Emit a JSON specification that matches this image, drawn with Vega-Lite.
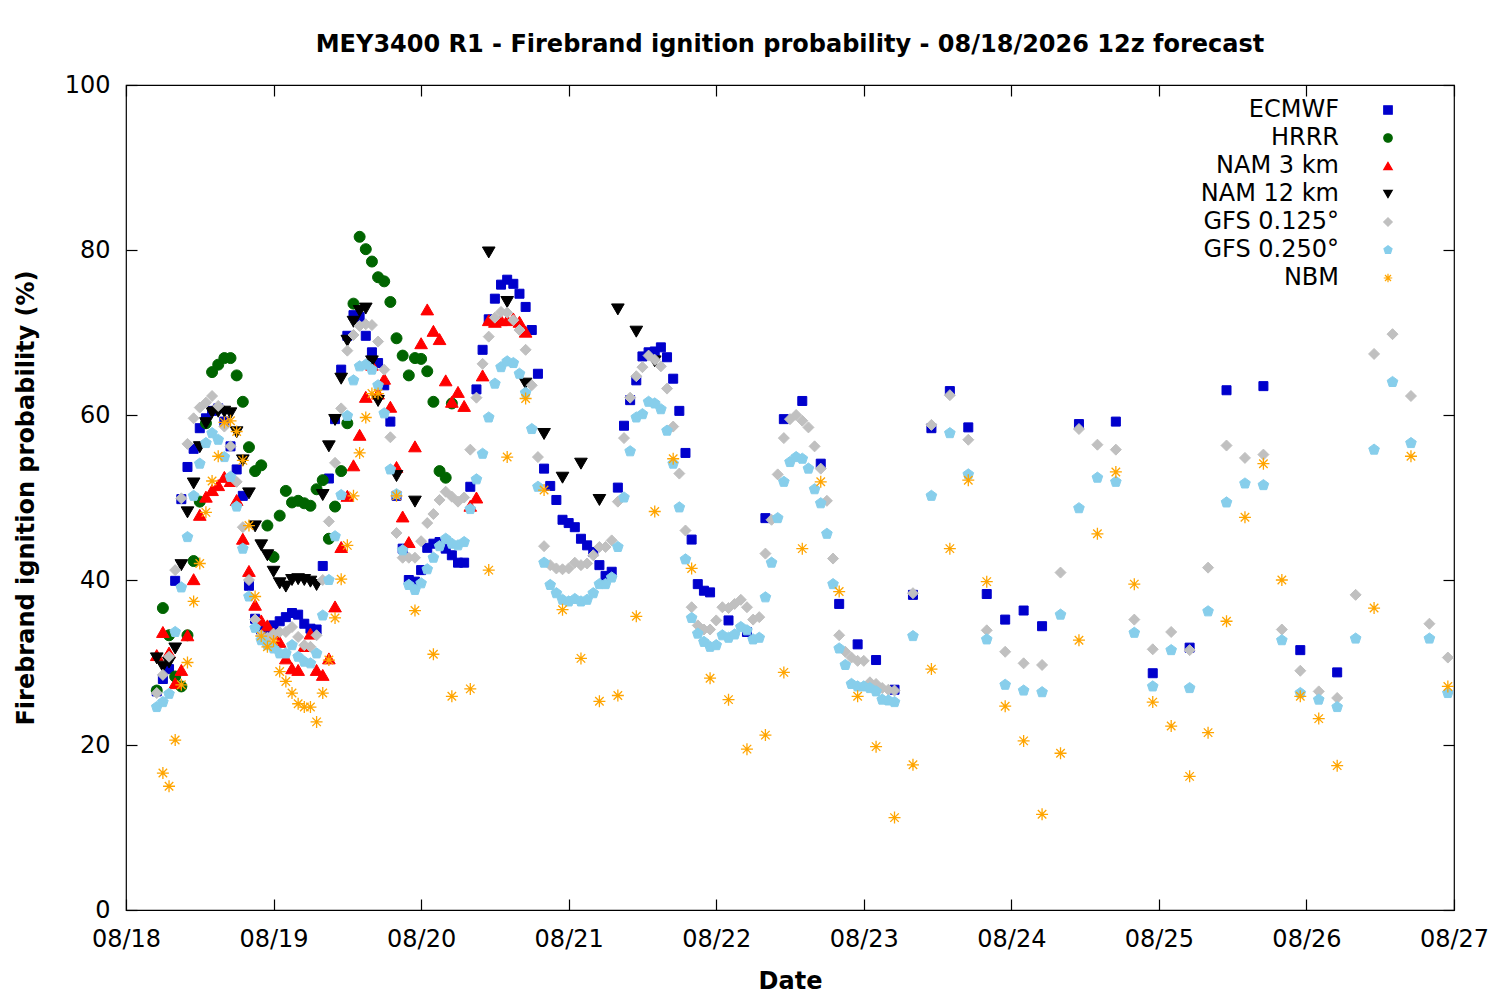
{
"$schema":"https://vega.github.io/schema/vega-lite/v6.json",
"width":1328,"height":825,
"autosize":{"type":"none"},
"padding":{"left":126,"top":85,"right":46,"bottom":90},
"title":{"text":"MEY3400 R1 - Firebrand ignition probability - 08/18/2026 12z forecast","fontSize":24,"font":"DejaVu Sans","fontWeight":"bold","color":"black","offset":16},
"config":{"font":"DejaVu Sans","view":{"stroke":"black","strokeWidth":1.2},
"axis":{"domain":false,"grid":false,"tickColor":"black","tickWidth":1.2,"tickSize":-11,"labelFontSize":24,"labelFont":"DejaVu Sans","labelColor":"black","titleFontSize":24,"titleFont":"DejaVu Sans","titleFontWeight":"bold","titleColor":"black"},
"legend":{"labelFontSize":24,"labelFont":"DejaVu Sans","labelColor":"black","symbolSize":72,"symbolStrokeWidth":1.2}},
"datasets":{
"ECMWF":[{"h":5,"p":26.5},{"h":6,"p":28},{"h":7,"p":29.2},{"h":8,"p":39.9},{"h":9,"p":49.8},{"h":10,"p":53.7},{"h":11,"p":55.9},{"h":12,"p":58.4},{"h":13,"p":59.6},{"h":14,"p":60.5},{"h":15,"p":60.8},{"h":16,"p":59.2},{"h":17,"p":56.2},{"h":18,"p":53.4},{"h":19,"p":50.2},{"h":20,"p":39.3},{"h":21,"p":35.3},{"h":22,"p":34.0},{"h":23,"p":34.2},{"h":24,"p":34.5},{"h":25,"p":35.0},{"h":26,"p":35.5},{"h":27,"p":36.0},{"h":28,"p":35.8},{"h":29,"p":34.7},{"h":30,"p":34.1},{"h":31,"p":34.0},{"h":32,"p":41.7},{"h":33,"p":52.3},{"h":34,"p":59.5},{"h":35,"p":65.5},{"h":36,"p":69.6},{"h":37,"p":72.1},{"h":38,"p":71.9},{"h":39,"p":69.6},{"h":40,"p":67.6},{"h":41,"p":66.3},{"h":42,"p":63.6},{"h":43,"p":59.2},{"h":44,"p":50.2},{"h":45,"p":43.8},{"h":46,"p":40.0},{"h":47,"p":39.8},{"h":48,"p":41.2},{"h":49,"p":43.9},{"h":50,"p":44.4},{"h":51,"p":44.6},{"h":52,"p":43.8},{"h":53,"p":43.0},{"h":54,"p":42.1},{"h":55,"p":42.1},{"h":56,"p":51.3},{"h":57,"p":63.1},{"h":58,"p":67.9},{"h":59,"p":71.6},{"h":60,"p":74.1},{"h":61,"p":75.8},{"h":62,"p":76.4},{"h":63,"p":75.9},{"h":64,"p":74.7},{"h":65,"p":73.1},{"h":66,"p":70.3},{"h":67,"p":65.0},{"h":68,"p":53.5},{"h":69,"p":51.4},{"h":70,"p":49.7},{"h":71,"p":47.3},{"h":72,"p":46.9},{"h":73,"p":46.4},{"h":74,"p":45.0},{"h":75,"p":44.2},{"h":76,"p":43.4},{"h":77,"p":41.8},{"h":78,"p":40.5},{"h":79,"p":41.0},{"h":80,"p":51.2},{"h":81,"p":58.7},{"h":82,"p":61.8},{"h":83,"p":64.2},{"h":84,"p":67.1},{"h":85,"p":67.6},{"h":86,"p":67.7},{"h":87,"p":68.2},{"h":88,"p":67.0},{"h":89,"p":64.4},{"h":90,"p":60.5},{"h":91,"p":55.4},{"h":92,"p":44.9},{"h":93,"p":39.5},{"h":94,"p":38.7},{"h":95,"p":38.5},{"h":98,"p":35.1},{"h":101,"p":33.7},{"h":104,"p":47.5},{"h":107,"p":59.5},{"h":110,"p":61.7},{"h":113,"p":54.1},{"h":116,"p":37.1},{"h":119,"p":32.2},{"h":122,"p":30.3},{"h":125,"p":26.7},{"h":128,"p":38.2},{"h":131,"p":58.4},{"h":134,"p":62.9},{"h":137,"p":58.5},{"h":140,"p":38.3},{"h":143,"p":35.2},{"h":146,"p":36.3},{"h":149,"p":34.4},{"h":155,"p":58.9},{"h":161,"p":59.2},{"h":167,"p":28.7},{"h":173,"p":31.8},{"h":179,"p":63.0},{"h":185,"p":63.5},{"h":191,"p":31.5},{"h":197,"p":28.8}],
"HRRR":[{"h":5,"p":26.6},{"h":6,"p":36.6},{"h":7,"p":33.3},{"h":8,"p":28.3},{"h":9,"p":27.1},{"h":10,"p":33.3},{"h":11,"p":42.3},{"h":12,"p":49.5},{"h":13,"p":59.0},{"h":14,"p":65.2},{"h":15,"p":66.1},{"h":16,"p":66.9},{"h":17,"p":66.9},{"h":18,"p":64.8},{"h":19,"p":61.6},{"h":20,"p":56.1},{"h":21,"p":53.2},{"h":22,"p":53.9},{"h":23,"p":46.6},{"h":24,"p":42.8},{"h":25,"p":47.8},{"h":26,"p":50.8},{"h":27,"p":49.4},{"h":28,"p":49.6},{"h":29,"p":49.3},{"h":30,"p":49.0},{"h":31,"p":51.0},{"h":32,"p":52.1},{"h":33,"p":45.0},{"h":34,"p":48.9},{"h":35,"p":53.2},{"h":36,"p":59.0},{"h":37,"p":73.5},{"h":38,"p":81.6},{"h":39,"p":80.1},{"h":40,"p":78.6},{"h":41,"p":76.7},{"h":42,"p":76.2},{"h":43,"p":73.7},{"h":44,"p":69.3},{"h":45,"p":67.2},{"h":46,"p":64.8},{"h":47,"p":66.9},{"h":48,"p":66.8},{"h":49,"p":65.3},{"h":50,"p":61.6},{"h":51,"p":53.2},{"h":52,"p":52.4},{"h":53,"p":61.4}],
"NAM3":[{"h":5,"p":30.9},{"h":6,"p":33.7},{"h":7,"p":31.2},{"h":8,"p":27.5},{"h":9,"p":29.1},{"h":10,"p":33.3},{"h":11,"p":40.1},{"h":12,"p":47.9},{"h":13,"p":50.1},{"h":14,"p":50.9},{"h":15,"p":51.5},{"h":16,"p":52.5},{"h":17,"p":52.0},{"h":18,"p":49.7},{"h":19,"p":45.0},{"h":20,"p":41.1},{"h":21,"p":37.0},{"h":22,"p":35.1},{"h":23,"p":34.5},{"h":24,"p":33.5},{"h":25,"p":32.5},{"h":26,"p":30.5},{"h":27,"p":29.3},{"h":28,"p":29.1},{"h":29,"p":32.0},{"h":30,"p":33.5},{"h":31,"p":29.1},{"h":32,"p":28.5},{"h":33,"p":30.5},{"h":34,"p":36.8},{"h":35,"p":44.0},{"h":36,"p":50.2},{"h":37,"p":53.9},{"h":38,"p":57.6},{"h":39,"p":62.2},{"h":40,"p":66.1},{"h":41,"p":62.6},{"h":42,"p":64.4},{"h":43,"p":61.0},{"h":44,"p":53.7},{"h":45,"p":47.7},{"h":46,"p":44.6},{"h":47,"p":56.2},{"h":48,"p":68.7},{"h":49,"p":72.8},{"h":50,"p":70.2},{"h":51,"p":69.2},{"h":52,"p":64.2},{"h":53,"p":61.6},{"h":54,"p":62.8},{"h":55,"p":61.1},{"h":56,"p":49.0},{"h":57,"p":50.0},{"h":58,"p":64.8},{"h":59,"p":71.5},{"h":60,"p":71.3},{"h":61,"p":71.5},{"h":62,"p":71.5},{"h":63,"p":71.7},{"h":64,"p":71.3},{"h":65,"p":70.1}],
"NAM12":[{"h":5,"p":30.5},{"h":6,"p":29.5},{"h":7,"p":30.0},{"h":8,"p":31.7},{"h":9,"p":41.8},{"h":10,"p":48.2},{"h":11,"p":51.7},{"h":12,"p":56.1},{"h":13,"p":59.0},{"h":14,"p":60.3},{"h":15,"p":60.4},{"h":16,"p":60.4},{"h":17,"p":60.2},{"h":18,"p":57.9},{"h":19,"p":54.5},{"h":20,"p":50.5},{"h":21,"p":46.5},{"h":22,"p":44.2},{"h":23,"p":43.0},{"h":24,"p":41.0},{"h":25,"p":39.6},{"h":26,"p":39.2},{"h":27,"p":40.0},{"h":28,"p":40.1},{"h":29,"p":40.0},{"h":30,"p":39.8},{"h":31,"p":39.4},{"h":32,"p":50.3},{"h":33,"p":56.2},{"h":34,"p":59.4},{"h":35,"p":64.4},{"h":36,"p":69.0},{"h":37,"p":71.3},{"h":38,"p":72.6},{"h":39,"p":72.9},{"h":40,"p":66.5},{"h":41,"p":61.7},{"h":44,"p":52.6},{"h":47,"p":49.5},{"h":59,"p":79.7},{"h":62,"p":73.7},{"h":65,"p":63.8},{"h":68,"p":57.7},{"h":71,"p":52.4},{"h":74,"p":54.1},{"h":77,"p":49.7},{"h":80,"p":72.8},{"h":83,"p":70.1},{"h":86,"p":66.5}],
"GFS125":[{"h":5,"p":26.3},{"h":6,"p":28.5},{"h":7,"p":30.7},{"h":8,"p":41.2},{"h":9,"p":49.9},{"h":10,"p":56.5},{"h":11,"p":59.6},{"h":12,"p":60.9},{"h":13,"p":61.5},{"h":14,"p":62.3},{"h":15,"p":61.1},{"h":16,"p":58.6},{"h":17,"p":56.2},{"h":18,"p":51.9},{"h":19,"p":46.4},{"h":20,"p":40.0},{"h":21,"p":35.2},{"h":22,"p":33.3},{"h":23,"p":33.0},{"h":24,"p":33.5},{"h":25,"p":33.7},{"h":26,"p":33.7},{"h":27,"p":34.3},{"h":28,"p":33.1},{"h":29,"p":32.1},{"h":30,"p":31.9},{"h":31,"p":33.3},{"h":32,"p":40.0},{"h":33,"p":47.1},{"h":34,"p":54.2},{"h":35,"p":60.8},{"h":36,"p":67.8},{"h":37,"p":69.7},{"h":38,"p":70.8},{"h":39,"p":71.0},{"h":40,"p":70.9},{"h":41,"p":68.9},{"h":42,"p":65.5},{"h":43,"p":57.3},{"h":44,"p":45.7},{"h":45,"p":42.7},{"h":46,"p":42.7},{"h":47,"p":42.7},{"h":48,"p":44.7},{"h":49,"p":46.9},{"h":50,"p":48.0},{"h":51,"p":49.7},{"h":52,"p":50.7},{"h":53,"p":50.1},{"h":54,"p":49.5},{"h":55,"p":50.0},{"h":56,"p":55.8},{"h":57,"p":62.1},{"h":58,"p":66.2},{"h":59,"p":69.5},{"h":60,"p":71.8},{"h":61,"p":72.5},{"h":62,"p":72.4},{"h":63,"p":71.5},{"h":64,"p":70.3},{"h":65,"p":67.9},{"h":66,"p":63.6},{"h":67,"p":54.9},{"h":68,"p":44.1},{"h":69,"p":41.8},{"h":70,"p":41.4},{"h":71,"p":41.3},{"h":72,"p":41.4},{"h":73,"p":42.1},{"h":74,"p":41.8},{"h":75,"p":42.0},{"h":76,"p":43.0},{"h":77,"p":44.0},{"h":78,"p":44.0},{"h":79,"p":44.8},{"h":80,"p":49.5},{"h":81,"p":57.2},{"h":82,"p":62.1},{"h":83,"p":64.7},{"h":84,"p":65.8},{"h":85,"p":67.2},{"h":86,"p":66.7},{"h":87,"p":65.9},{"h":88,"p":63.2},{"h":89,"p":58.6},{"h":90,"p":52.9},{"h":91,"p":46.0},{"h":92,"p":36.7},{"h":93,"p":34.5},{"h":94,"p":34.0},{"h":95,"p":34.0},{"h":96,"p":35.1},{"h":97,"p":36.7},{"h":98,"p":36.6},{"h":99,"p":37.1},{"h":100,"p":37.6},{"h":101,"p":36.7},{"h":102,"p":35.2},{"h":103,"p":35.5},{"h":104,"p":43.2},{"h":105,"p":47.3},{"h":106,"p":52.8},{"h":107,"p":57.2},{"h":108,"p":59.5},{"h":109,"p":60.0},{"h":110,"p":59.3},{"h":111,"p":58.5},{"h":112,"p":56.2},{"h":113,"p":53.5},{"h":114,"p":49.6},{"h":115,"p":42.6},{"h":116,"p":33.3},{"h":117,"p":31.3},{"h":118,"p":30.6},{"h":119,"p":30.2},{"h":120,"p":30.2},{"h":121,"p":27.6},{"h":122,"p":27.4},{"h":123,"p":26.9},{"h":124,"p":26.7},{"h":125,"p":26.6},{"h":128,"p":38.4},{"h":131,"p":58.8},{"h":134,"p":62.4},{"h":137,"p":57.0},{"h":140,"p":33.9},{"h":143,"p":31.3},{"h":146,"p":29.9},{"h":149,"p":29.7},{"h":152,"p":40.9},{"h":155,"p":58.3},{"h":158,"p":56.4},{"h":161,"p":55.8},{"h":164,"p":35.2},{"h":167,"p":31.6},{"h":170,"p":33.7},{"h":173,"p":31.5},{"h":176,"p":41.5},{"h":179,"p":56.3},{"h":182,"p":54.8},{"h":185,"p":55.2},{"h":188,"p":34.0},{"h":191,"p":29.0},{"h":194,"p":26.5},{"h":197,"p":25.7},{"h":200,"p":38.2},{"h":203,"p":67.4},{"h":206,"p":69.8},{"h":209,"p":62.3},{"h":212,"p":34.7},{"h":215,"p":30.6}],
"GFS250":[{"h":5,"p":24.6},{"h":6,"p":25.2},{"h":7,"p":26.2},{"h":8,"p":33.7},{"h":9,"p":39.1},{"h":10,"p":45.2},{"h":11,"p":50.2},{"h":12,"p":54.1},{"h":13,"p":56.6},{"h":14,"p":57.8},{"h":15,"p":57.0},{"h":16,"p":54.9},{"h":17,"p":52.5},{"h":18,"p":48.9},{"h":19,"p":43.8},{"h":20,"p":38.0},{"h":21,"p":34.2},{"h":22,"p":32.7},{"h":23,"p":32.1},{"h":24,"p":31.7},{"h":25,"p":31.1},{"h":26,"p":31.1},{"h":27,"p":32.1},{"h":28,"p":30.7},{"h":29,"p":30.1},{"h":30,"p":29.9},{"h":31,"p":31.1},{"h":32,"p":35.7},{"h":33,"p":40.0},{"h":34,"p":45.3},{"h":35,"p":50.3},{"h":36,"p":59.9},{"h":37,"p":64.2},{"h":38,"p":65.9},{"h":39,"p":66.1},{"h":40,"p":65.5},{"h":41,"p":63.6},{"h":42,"p":60.2},{"h":43,"p":53.4},{"h":44,"p":50.4},{"h":45,"p":43.6},{"h":46,"p":39.4},{"h":47,"p":38.8},{"h":48,"p":39.6},{"h":49,"p":41.3},{"h":50,"p":42.7},{"h":51,"p":44.1},{"h":52,"p":45.0},{"h":53,"p":44.4},{"h":54,"p":44.2},{"h":55,"p":44.6},{"h":56,"p":48.6},{"h":57,"p":52.2},{"h":58,"p":55.3},{"h":59,"p":59.7},{"h":60,"p":63.8},{"h":61,"p":65.8},{"h":62,"p":66.5},{"h":63,"p":66.3},{"h":64,"p":65.0},{"h":65,"p":62.7},{"h":66,"p":58.3},{"h":67,"p":51.3},{"h":68,"p":42.1},{"h":69,"p":39.4},{"h":70,"p":38.4},{"h":71,"p":37.6},{"h":72,"p":37.4},{"h":73,"p":37.7},{"h":74,"p":37.4},{"h":75,"p":37.6},{"h":76,"p":38.4},{"h":77,"p":39.5},{"h":78,"p":39.5},{"h":79,"p":40.3},{"h":80,"p":44.0},{"h":81,"p":50.0},{"h":82,"p":55.6},{"h":83,"p":59.7},{"h":84,"p":60.1},{"h":85,"p":61.6},{"h":86,"p":61.4},{"h":87,"p":60.7},{"h":88,"p":58.1},{"h":89,"p":54.1},{"h":90,"p":48.8},{"h":91,"p":42.5},{"h":92,"p":35.4},{"h":93,"p":33.5},{"h":94,"p":32.5},{"h":95,"p":31.9},{"h":96,"p":32.1},{"h":97,"p":33.3},{"h":98,"p":33.0},{"h":99,"p":33.4},{"h":100,"p":34.3},{"h":101,"p":33.9},{"h":102,"p":32.8},{"h":103,"p":33.0},{"h":104,"p":37.9},{"h":105,"p":42.1},{"h":106,"p":47.5},{"h":107,"p":51.9},{"h":108,"p":54.3},{"h":109,"p":54.9},{"h":110,"p":54.7},{"h":111,"p":53.5},{"h":112,"p":51.0},{"h":113,"p":49.3},{"h":114,"p":45.6},{"h":115,"p":39.5},{"h":116,"p":31.7},{"h":117,"p":29.7},{"h":118,"p":27.4},{"h":119,"p":27.1},{"h":120,"p":27.1},{"h":121,"p":26.9},{"h":122,"p":26.5},{"h":123,"p":25.5},{"h":124,"p":25.4},{"h":125,"p":25.2},{"h":128,"p":33.2},{"h":131,"p":50.2},{"h":134,"p":57.8},{"h":137,"p":52.8},{"h":140,"p":32.8},{"h":143,"p":27.3},{"h":146,"p":26.6},{"h":149,"p":26.4},{"h":152,"p":35.8},{"h":155,"p":48.7},{"h":158,"p":52.4},{"h":161,"p":51.9},{"h":164,"p":33.6},{"h":167,"p":27.1},{"h":170,"p":31.5},{"h":173,"p":26.9},{"h":176,"p":36.2},{"h":179,"p":49.4},{"h":182,"p":51.7},{"h":185,"p":51.5},{"h":188,"p":32.7},{"h":191,"p":26.3},{"h":194,"p":25.5},{"h":197,"p":24.6},{"h":200,"p":32.9},{"h":203,"p":55.8},{"h":206,"p":64.0},{"h":209,"p":56.6},{"h":212,"p":32.9},{"h":215,"p":26.3}],
"NBM":[{"h":6,"p":16.6},{"h":7,"p":15.0},{"h":8,"p":20.6},{"h":9,"p":27.3},{"h":10,"p":30.0},{"h":11,"p":37.4},{"h":12,"p":42.0},{"h":13,"p":48.2},{"h":14,"p":52.0},{"h":15,"p":55.0},{"h":16,"p":59.1},{"h":17,"p":59.3},{"h":18,"p":58.0},{"h":19,"p":54.5},{"h":20,"p":46.6},{"h":21,"p":38.0},{"h":22,"p":33.2},{"h":23,"p":31.9},{"h":24,"p":32.6},{"h":25,"p":28.9},{"h":26,"p":27.7},{"h":27,"p":26.3},{"h":28,"p":25.0},{"h":29,"p":24.6},{"h":30,"p":24.6},{"h":31,"p":22.8},{"h":32,"p":26.3},{"h":33,"p":30.3},{"h":34,"p":35.4},{"h":35,"p":40.1},{"h":36,"p":44.2},{"h":37,"p":50.2},{"h":38,"p":55.4},{"h":39,"p":59.7},{"h":40,"p":62.6},{"h":41,"p":62.6},{"h":44,"p":50.2},{"h":47,"p":36.3},{"h":50,"p":31.0},{"h":53,"p":25.9},{"h":56,"p":26.8},{"h":59,"p":41.2},{"h":62,"p":54.9},{"h":65,"p":62.0},{"h":68,"p":50.9},{"h":71,"p":36.4},{"h":74,"p":30.5},{"h":77,"p":25.3},{"h":80,"p":26.0},{"h":83,"p":35.6},{"h":86,"p":48.3},{"h":89,"p":54.7},{"h":92,"p":41.4},{"h":95,"p":28.1},{"h":98,"p":25.5},{"h":101,"p":19.5},{"h":104,"p":21.2},{"h":107,"p":28.8},{"h":110,"p":43.8},{"h":113,"p":51.9},{"h":116,"p":38.6},{"h":119,"p":25.9},{"h":122,"p":19.8},{"h":125,"p":11.2},{"h":128,"p":17.6},{"h":131,"p":29.2},{"h":134,"p":43.8},{"h":137,"p":52.1},{"h":140,"p":39.8},{"h":143,"p":24.7},{"h":146,"p":20.5},{"h":149,"p":11.6},{"h":152,"p":19.0},{"h":155,"p":32.7},{"h":158,"p":45.6},{"h":161,"p":53.1},{"h":164,"p":39.5},{"h":167,"p":25.2},{"h":170,"p":22.3},{"h":173,"p":16.2},{"h":176,"p":21.5},{"h":179,"p":35.0},{"h":182,"p":47.6},{"h":185,"p":54.1},{"h":188,"p":40.0},{"h":191,"p":25.9},{"h":194,"p":23.2},{"h":197,"p":17.5},{"h":203,"p":36.6},{"h":209,"p":55.0},{"h":215,"p":27.1}]
},
"encoding":{
"x":{"field":"h","type":"quantitative","scale":{"domain":[0,216],"nice":false,"zero":false}},
"y":{"field":"p","type":"quantitative","scale":{"domain":[0,100],"nice":false}}
},
"layer":[
{"encoding":{
"x":{"field":"h","type":"quantitative","title":"Date","axis":{"orient":"bottom","values":[0,24,48,72,96,120,144,168,192,216],"labelExpr":"['08/18','08/19','08/20','08/21','08/22','08/23','08/24','08/25','08/26','08/27'][round(datum.value/24)]","labelPadding":28,"titlePadding":18,"labelFlush":false}},
"y":{"field":"p","type":"quantitative","title":"Firebrand ignition probability (%)","axis":{"orient":"left","values":[0,20,40,60,80,100],"labelPadding":27,"titlePadding":26}}
},
"layer":[
{"data":{"name":"ECMWF"},"mark":{"type":"point","filled":true,"size":81,"strokeWidth":1,"opacity":1},
"encoding":{
"fill":{"datum":"ECMWF","type":"nominal","scale":{"domain":["ECMWF","HRRR","NAM 3 km","NAM 12 km","GFS 0.125°","GFS 0.250°","NBM"],"range":["#0000cc","#006400","#ff0000","#000000","#c0c0c0","#87ceeb","transparent"]},"legend":{"title":null,"orient":"none","legendX":1250,"legendY":13,"labelAlign":"right","labelOffset":-61,"rowPadding":4,"padding":0}},
"stroke":{"datum":"ECMWF","type":"nominal","scale":{"domain":["ECMWF","HRRR","NAM 3 km","NAM 12 km","GFS 0.125°","GFS 0.250°","NBM"],"range":["#0000cc","#006400","#ff0000","#000000","#c0c0c0","#87ceeb","#ffa500"]},"legend":{"title":null,"orient":"none","legendX":1250,"legendY":13,"labelAlign":"right","labelOffset":-61,"rowPadding":4,"padding":0}},
"shape":{"datum":"ECMWF","type":"nominal","scale":{"domain":["ECMWF","HRRR","NAM 3 km","NAM 12 km","GFS 0.125°","GFS 0.250°","NBM"],"range":["square","circle","triangle-up","triangle-down","diamond","M0,-1L0.951,-0.309L0.588,0.809L-0.588,0.809L-0.951,-0.309Z","M-1,0L1,0M0,-1L0,1M-0.707,-0.707L0.707,0.707M-0.707,0.707L0.707,-0.707"]},"legend":{"title":null,"orient":"none","legendX":1250,"legendY":13,"labelAlign":"right","labelOffset":-61,"rowPadding":4,"padding":0}}}},
{"data":{"name":"HRRR"},"mark":{"type":"point","filled":true,"size":121,"strokeWidth":1,"opacity":1},
"encoding":{"fill":{"datum":"HRRR","type":"nominal"},"stroke":{"datum":"HRRR","type":"nominal"},"shape":{"datum":"HRRR","type":"nominal"}}},
{"data":{"name":"NAM3"},"mark":{"type":"point","filled":true,"size":160,"strokeWidth":1,"opacity":1},
"encoding":{"fill":{"datum":"NAM 3 km","type":"nominal"},"stroke":{"datum":"NAM 3 km","type":"nominal"},"shape":{"datum":"NAM 3 km","type":"nominal"}}},
{"data":{"name":"NAM12"},"mark":{"type":"point","filled":true,"size":160,"strokeWidth":1,"opacity":1},
"encoding":{"fill":{"datum":"NAM 12 km","type":"nominal"},"stroke":{"datum":"NAM 12 km","type":"nominal"},"shape":{"datum":"NAM 12 km","type":"nominal"}}},
{"data":{"name":"GFS125"},"mark":{"type":"point","filled":true,"size":121,"strokeWidth":1,"opacity":1},
"encoding":{"fill":{"datum":"GFS 0.125°","type":"nominal"},"stroke":{"datum":"GFS 0.125°","type":"nominal"},"shape":{"datum":"GFS 0.125°","type":"nominal"}}},
{"data":{"name":"GFS250"},"mark":{"type":"point","filled":true,"size":125,"strokeWidth":1,"opacity":1},
"encoding":{"fill":{"datum":"GFS 0.250°","type":"nominal"},"stroke":{"datum":"GFS 0.250°","type":"nominal"},"shape":{"datum":"GFS 0.250°","type":"nominal"}}},
{"data":{"name":"NBM"},"mark":{"type":"point","filled":true,"size":144,"strokeWidth":1.3,"opacity":1},
"encoding":{"fill":{"datum":"NBM","type":"nominal"},"stroke":{"datum":"NBM","type":"nominal"},"shape":{"datum":"NBM","type":"nominal"}}}
]},
{"data":{"name":"ECMWF"},"mark":{"type":"point","opacity":0},
"encoding":{
"x":{"field":"h","type":"quantitative","axis":{"orient":"top","values":[0,24,48,72,96,120,144,168,192,216],"labels":false,"title":null}},
"y":{"field":"p","type":"quantitative","axis":{"orient":"right","values":[0,20,40,60,80,100],"labels":false,"title":null}}}}
],
"resolve":{"axis":{"x":"independent","y":"independent"}}
}
